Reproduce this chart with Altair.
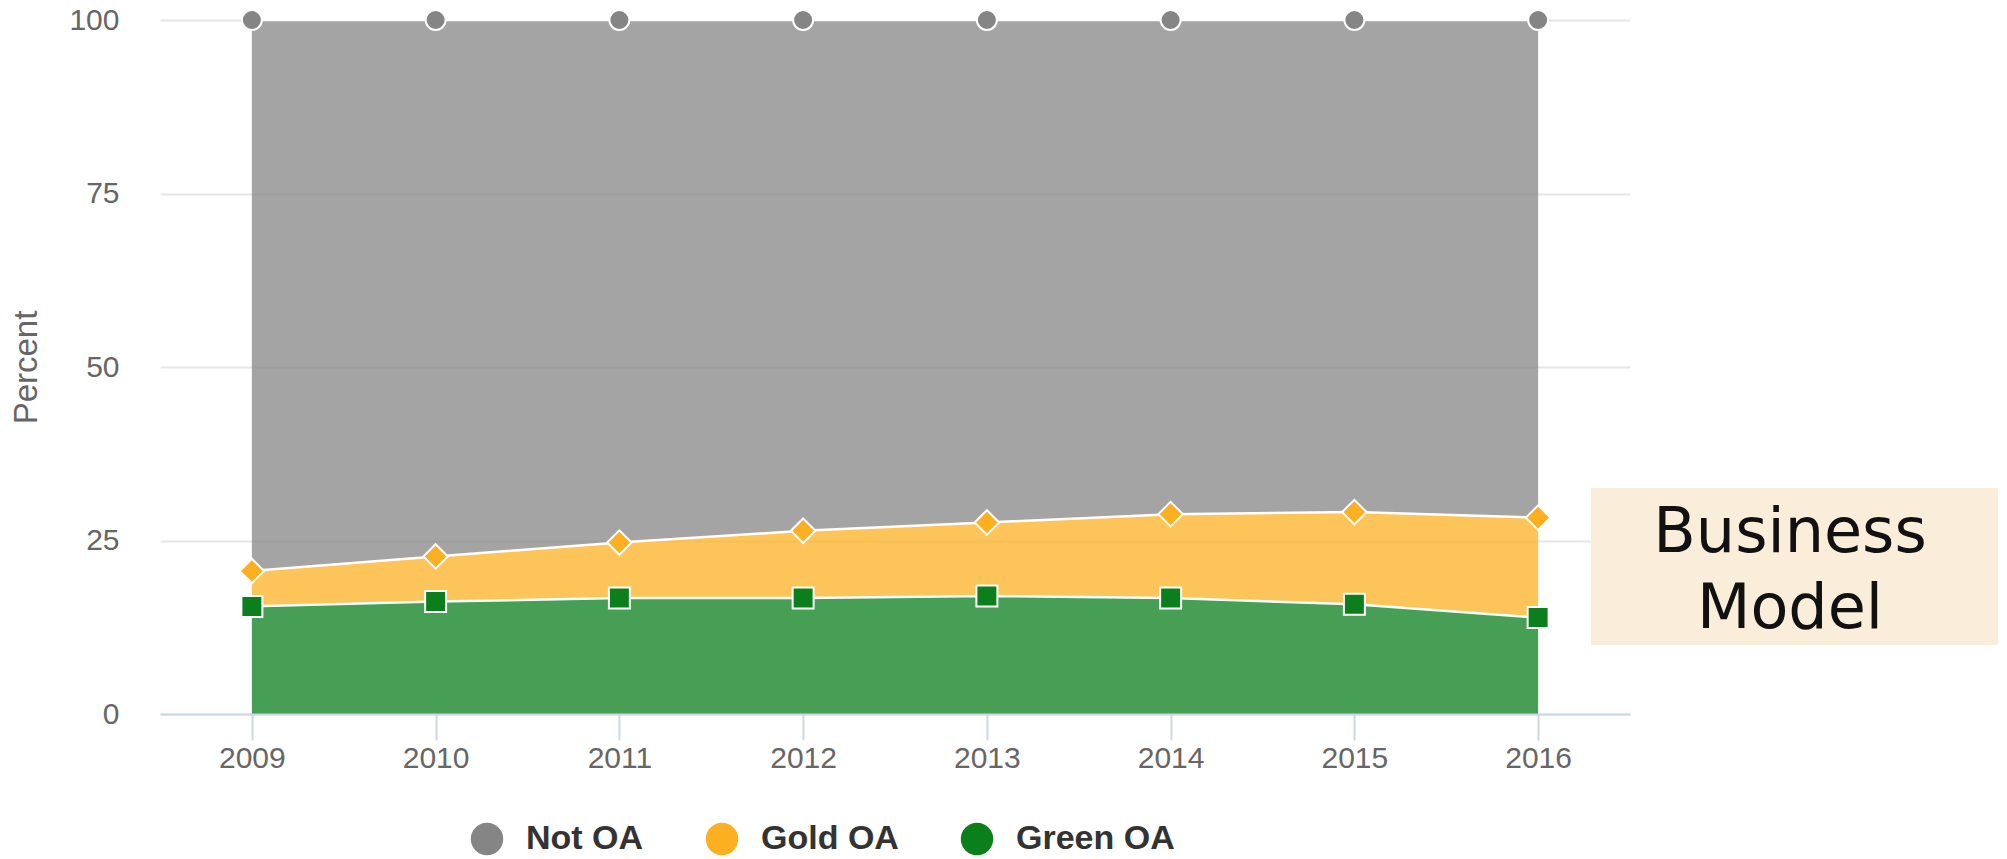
import altair as alt
import pandas as pd

# ---- data ----
YEARS = ["2009", "2010", "2011", "2012", "2013", "2014", "2015", "2016"]
SERIES = ["Not OA", "Gold OA", "Green OA"]
GREEN_OA = [15.5, 16.2, 16.7, 16.7, 17.0, 16.7, 15.8, 13.9]
GOLD_OA = [5.1, 6.5, 8.0, 9.7, 10.6, 12.1, 13.3, 14.4]
NOT_OA = [79.4, 77.3, 75.3, 73.6, 72.4, 71.2, 70.9, 71.7]
Y_TICKS = [0, 25, 50, 75, 100]
ANNOTATION = ["Business", "Model"]

# ---- styles ----
COLORS = ["#858585", "#fcb021", "#0a7f1c"]
SHAPES = ["circle", "diamond", "square"]
SIZES = [400, 600, 440]
FONT = "Liberation Sans"

# stacked table (bottom to top: Green, Gold, Not OA)
values = {"Not OA": NOT_OA, "Gold OA": GOLD_OA, "Green OA": GREEN_OA}
stack_order = ["Green OA", "Gold OA", "Not OA"]
rows = []
for i, yr in enumerate(YEARS):
    base = 0.0
    for k, s in enumerate(stack_order):
        v = values[s][i]
        rows.append(dict(year=yr, series=s, value=v, lower=base, upper=base + v, order=k))
        base += v
df = pd.DataFrame(rows)

x_enc = alt.X(
    "year:O",
    sort=YEARS,
    scale=alt.Scale(type="point", padding=0.5),
    axis=alt.Axis(
        title=None,
        labelAngle=0,
        labelFontSize=30,
        labelColor="#666666",
        labelFont=FONT,
        labelPadding=3,
        domain=True,
        domainColor="#ccd6eb",
        domainWidth=2,
        ticks=True,
        tickColor="#ccd6eb",
        tickWidth=2,
        tickSize=26,
        grid=False,
        zindex=1,
    ),
)

y_scale = alt.Scale(domain=[0, 100], nice=False)
y_axis = alt.Axis(
    title="Percent",
    values=Y_TICKS,
    domain=False,
    ticks=False,
    tickSize=0,
    labelPadding=41,
    labelFontSize=30,
    labelColor="#666666",
    labelFont=FONT,
    grid=True,
    gridColor="#e6e6e6",
    gridWidth=2,
    titleFont=FONT,
    titleFontSize=33,
    titleFontWeight="normal",
    titleColor="#666666",
    titleX=-134,
    titleY=347,
    titleAlign="center",
    titleBaseline="middle",
)

base = alt.Chart(df)

area = base.mark_area(opacity=0.75).encode(
    x=x_enc,
    y=alt.Y("upper:Q", scale=y_scale, axis=y_axis),
    y2="lower:Q",
    color=alt.Color(
        "series:N",
        scale=alt.Scale(domain=SERIES, range=COLORS),
        legend=alt.Legend(
            title=None,
            orient="none",
            legendX=310,
            legendY=802,
            direction="horizontal",
            symbolType="circle",
            symbolSize=1050,
            symbolOpacity=1,
            symbolStrokeWidth=0,
            labelFont=FONT,
            labelFontWeight="bold",
            labelFontSize=34,
            labelColor="#333333",
            labelOffset=22,
            columnPadding=61,
            padding=0,
        ),
    ),
    order=alt.Order("order:Q"),
)

lines = base.mark_line(color="white", strokeWidth=2.5).encode(
    x=x_enc,
    y=alt.Y("upper:Q", scale=y_scale),
    detail="series:N",
)

point_layers = []
for s, col, shp, sz in zip(SERIES, COLORS, SHAPES, SIZES):
    point_layers.append(
        base.transform_filter(alt.datum.series == s)
        .mark_point(filled=True, fill=col, shape=shp, size=sz, stroke="white", strokeWidth=2, opacity=1)
        .encode(x=x_enc, y=alt.Y("upper:Q", scale=y_scale))
    )

note_df = pd.DataFrame({"text": ["\n".join(ANNOTATION)]})
box = alt.Chart(note_df).mark_rect(color="#faeedb").encode(
    x=alt.value(1431), x2=alt.value(1838), y=alt.value(468), y2=alt.value(625)
)
note = alt.Chart(note_df).mark_text(
    lineBreak="\n",
    lineHeight=76,
    font="DejaVu Sans",
    fontSize=62,
    align="center",
    baseline="alphabetic",
    color="#111111",
).encode(text="text:N", x=alt.value(1630), y=alt.value(532))

chart = (
    alt.layer(area, lines, *point_layers, box, note)
    .properties(
        width=1470,
        height=694,
        autosize=alt.AutoSizeParams(type="none"),
        padding={"left": 152, "top": 12, "right": 368, "bottom": 142},
    )
    .configure_view(stroke=None)
)

chart.save("out.html", embed_options={"renderer": "svg", "actions": False})
